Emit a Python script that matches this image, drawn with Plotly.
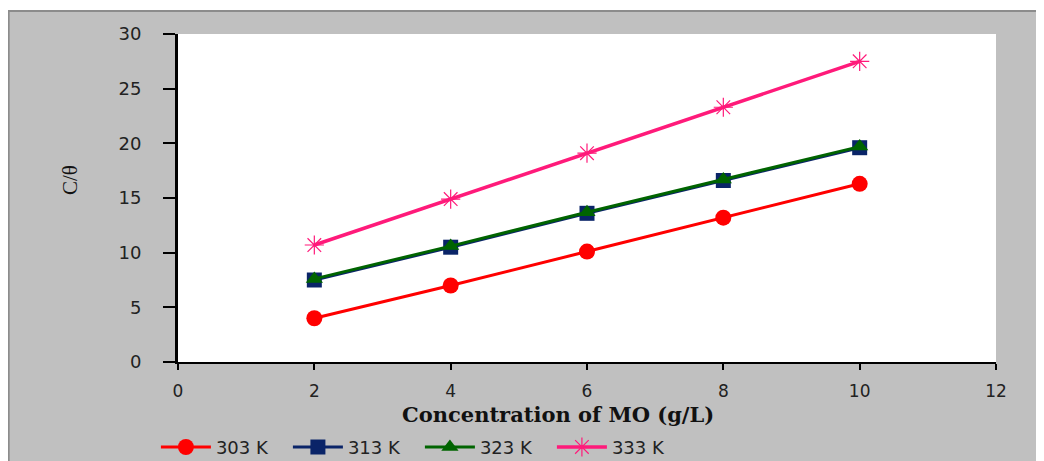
import plotly.graph_objects as go

conc = [2, 4, 6, 8, 10]
c303 = [4.0, 7.0, 10.1, 13.2, 16.3]
c313 = [7.5, 10.5, 13.6, 16.6, 19.6]
c323 = [7.6, 10.6, 13.7, 16.7, 19.7]
c333 = [10.7, 14.9, 19.1, 23.3, 27.5]
x_ticks = [0, 2, 4, 6, 8, 10, 12]
y_ticks = [0, 5, 10, 15, 20, 25, 30]

series = [
    ("303 K", c303, "#ff0000", "circle", 16, 3),
    ("313 K", c313, "#0a2468", "square", 15, 3),
    ("323 K", c323, "#006400", "triangle-up", 15, 3),
    ("333 K", c333, "#ff1a7a", "asterisk-open", 16, 3.5),
]

fig = go.Figure()
for name, vals, col, sym, sz, lw in series:
    mk = dict(symbol=sym, size=sz, color=col)
    if sym == "asterisk-open":
        mk["line"] = dict(color=col, width=1.2)
    fig.add_trace(go.Scatter(x=conc, y=vals, name=name, mode="lines+markers",
                             line=dict(color=col, width=lw), marker=mk))

# gray chart-area background
fig.add_shape(type="rect", xref="paper", yref="paper",
              x0=-0.207, x1=1.3, y0=-0.5, y1=1.070,
              fillcolor="#c0c0c0", line=dict(color="#8c8c8c", width=2), layer="below")
# white plot area
fig.add_shape(type="rect", xref="paper", yref="paper",
              x0=0, x1=1, y0=0, y1=1,
              fillcolor="white", line=dict(width=0), layer="below")

# page has an 8px body margin, so the figure is offset by 8px
fig.update_layout(
    width=1036, height=453,
    margin=dict(l=170, r=48, t=26, b=99, autoexpand=False),
    paper_bgcolor="white", plot_bgcolor="rgba(0,0,0,0)",
    showlegend=True,
    legend=dict(orientation="h", x=-0.027, y=-0.26, xanchor="left", yanchor="middle",
                font=dict(family="DejaVu Sans", size=18, color="#222"),
                entrywidth=67, entrywidthmode="pixels", itemwidth=50,
                bgcolor="rgba(0,0,0,0)"),
    font=dict(family="DejaVu Sans", size=16, color="#222"),
)
fig.update_xaxes(range=[0, 12], tickvals=x_ticks, ticks="outside", ticklen=6, tickwidth=2,
                 tickcolor="black", showline=True, linecolor="black", linewidth=2,
                 showgrid=False, zeroline=False, ticklabelstandoff=7, automargin=False,
                 tickfont=dict(family="DejaVu Sans", size=17, color="#222"))
fig.update_yaxes(range=[0, 30], tickvals=y_ticks, ticks="outside", ticklen=12, tickwidth=2,
                 tickcolor="black", showline=True, linecolor="black", linewidth=3,
                 showgrid=False, zeroline=False, ticklabelstandoff=18, automargin=False,
                 tickfont=dict(family="DejaVu Sans", size=18, color="#222"))

fig.add_annotation(text="<b>Concentration of MO (g/L)</b>", xref="paper", yref="paper",
                   x=(558 - 178) / 818, y=-(414 - 362) / 328, xanchor="center", yanchor="middle",
                   showarrow=False, font=dict(family="DejaVu Serif", size=21, color="#111"))
fig.add_annotation(text="C/θ", xref="paper", yref="paper",
                   x=(70 - 178) / 818, y=(362 - 180) / 328, xanchor="center", yanchor="middle",
                   textangle=-90, showarrow=False,
                   font=dict(family="Liberation Serif", size=21, color="#111"))

fig.write_html("out.html")
